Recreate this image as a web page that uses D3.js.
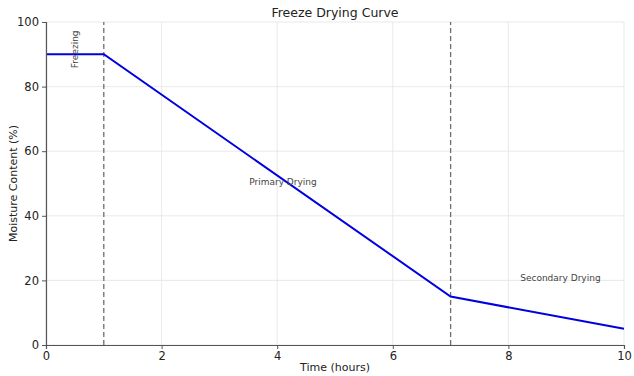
<!DOCTYPE html>
<html>
<head>
<meta charset="utf-8">
<script src="https://cdn.jsdelivr.net/npm/d3@7"></script>
<style>
body { margin: 0; background: #fff; }
text { font-family: "DejaVu Sans", sans-serif; }
</style>
</head>
<body>
<script>
let w = 634;
let h = 376;
let margin = {top: 22, right: 10, bottom: 31, left: 46};

// data
let times = [0, 1, 7, 10];
let moisture = [90, 90, 15, 5];
let phaseLines = [1, 7];
let phaseNames = ["Freezing", "Primary Drying", "Secondary Drying"];
let phaseX = [0.5, 4.1, 8.9];
let phaseY = [90, 50, 20];
let xTicks = [0, 2, 4, 6, 8, 10];
let yTicks = [0, 20, 40, 60, 80, 100];

let svg = d3.select("body").append("svg")
    .attr("width", w)
    .attr("height", h);

let xScale = d3.scaleLinear().domain([0, 10]).range([margin.left, w - margin.right]);
let yScale = d3.scaleLinear().domain([0, 100]).range([h - margin.bottom, margin.top]);

// grid
svg.append("g").selectAll("line")
    .data(xTicks)
    .enter().append("line")
    .attr("x1", d => xScale(d)).attr("x2", d => xScale(d))
    .attr("y1", yScale(0)).attr("y2", yScale(100))
    .attr("stroke", "#e3e3e3").attr("stroke-width", 0.8);
svg.append("g").selectAll("line")
    .data(yTicks)
    .enter().append("line")
    .attr("x1", xScale(0)).attr("x2", xScale(10))
    .attr("y1", d => yScale(d)).attr("y2", d => yScale(d))
    .attr("stroke", "#e3e3e3").attr("stroke-width", 0.8);

// phase lines
svg.append("g").selectAll("line")
    .data(phaseLines)
    .enter().append("line")
    .attr("x1", d => xScale(d)).attr("x2", d => xScale(d))
    .attr("y1", yScale(0)).attr("y2", yScale(100))
    .attr("stroke", "#6e6e6e").attr("stroke-width", 1.3)
    .attr("stroke-dasharray", "5,3");

// curve
let line = d3.line()
    .x((d, i) => xScale(times[i]))
    .y(d => yScale(d));
svg.append("path")
    .datum(moisture)
    .attr("d", line)
    .attr("fill", "none")
    .attr("stroke", "#0000e0")
    .attr("stroke-width", 2);

// axes
let xAxis = d3.axisBottom(xScale).tickValues(xTicks).tickSize(4);
let yAxis = d3.axisLeft(yScale).tickValues(yTicks).tickSize(4);

let gx = svg.append("g")
    .attr("transform", "translate(0," + yScale(0) + ")")
    .call(xAxis);
let gy = svg.append("g")
    .attr("transform", "translate(" + xScale(0) + ",0)")
    .call(yAxis);
[gx, gy].forEach(g => {
    g.select(".domain").attr("stroke", "#555").attr("stroke-width", 1.2);
    g.selectAll(".tick line").attr("stroke", "#555");
    g.selectAll("text").attr("fill", "#222").style("font-size", "11.5px")
        .style("font-family", "DejaVu Sans, sans-serif");
});

// phase labels
phaseNames.forEach((name, i) => {
    let x = xScale(phaseX[i]);
    let y = yScale(phaseY[i]);
    let t = svg.append("text")
        .attr("fill", "#444")
        .style("font-size", "9px")
        .attr("text-anchor", "middle")
        .text(name);
    if (i === 0) {
        t.attr("transform", "translate(" + (x + 3) + "," + (y - 5) + ") rotate(-90)");
    } else {
        t.attr("x", x).attr("y", y + 1);
    }
});

// title and axis labels
svg.append("text")
    .attr("x", (xScale(0) + xScale(10)) / 2)
    .attr("y", 17)
    .attr("text-anchor", "middle")
    .attr("fill", "#222")
    .style("font-size", "12.5px")
    .text("Freeze Drying Curve");

svg.append("text")
    .attr("x", (xScale(0) + xScale(10)) / 2)
    .attr("y", 371)
    .attr("text-anchor", "middle")
    .attr("fill", "#222")
    .style("font-size", "11px")
    .text("Time (hours)");

svg.append("text")
    .attr("transform", "translate(17," + ((yScale(0) + yScale(100)) / 2) + ") rotate(-90)")
    .attr("text-anchor", "middle")
    .attr("fill", "#222")
    .style("font-size", "11px")
    .text("Moisture Content (%)");
</script>
</body>
</html>
